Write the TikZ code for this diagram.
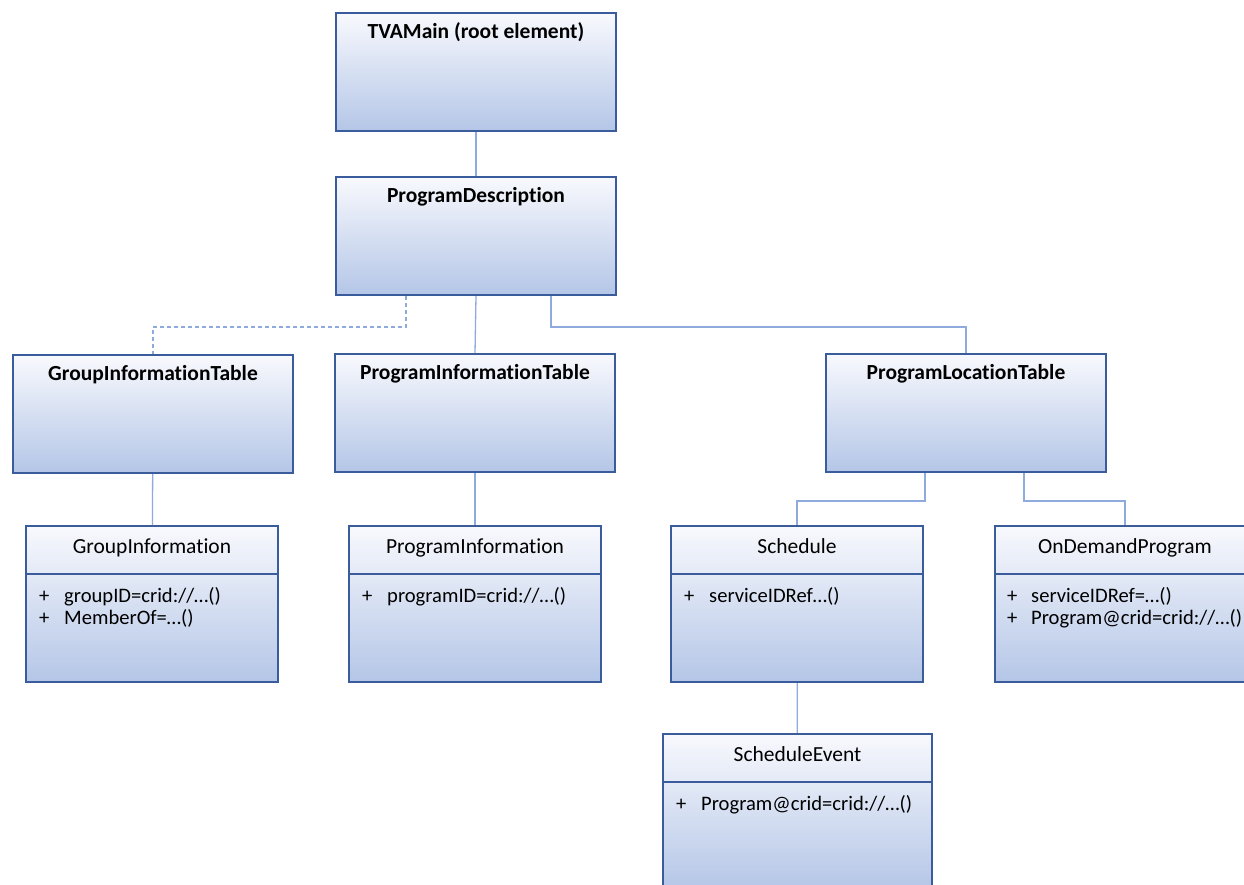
\documentclass[tikz,border=0pt]{standalone}
\usepackage{fontspec}
\setmainfont{Carlito}[Ligatures=NoCommon]
\usetikzlibrary{positioning}
\definecolor{boxedge}{HTML}{3B5C9C}
\definecolor{boxtop}{HTML}{F8F9FD}
\definecolor{boxbot}{HTML}{B4C6E7}
\definecolor{linkblue}{HTML}{8FAADC}

\begin{document}
\begin{tikzpicture}[x=1pt, y=-1pt,
        font=\fontsize{21.5}{22}\selectfont,
        tblbox/.style={rectangle, draw=boxedge, line width=2pt, top color=boxtop, bottom color=boxbot,
          minimum width=280pt, minimum height=118pt, anchor=north west, inner sep=0pt},
        clsbox/.style={tblbox, minimum width=252pt, minimum height=156pt},
        divider/.style={draw=boxedge, line width=1.6pt},
        heading/.style={anchor=base, font=\fontsize{21.5}{22}\selectfont\bfseries},
        clsname/.style={anchor=base},
        members/.style={anchor=base west, inner sep=0pt, font=\fontsize{20.6}{22}\selectfont},
        link/.style={draw=linkblue, line width=1.3pt},
      ]
      \useasboundingbox (0,0) rectangle (1244,884);

      % element boxes of the schema
      \node[tblbox] (tva) at (335,12) {};
      \node[tblbox] (pd) at (335,176) {};
      \node[tblbox] (git) at (12,354) {};
      \node[tblbox] (pit) at (334,353) {};
      \node[tblbox] (plt) at (825,353) {};

      \node[heading] (tvaname) at ([yshift=-26pt]tva.north) {TVAMain (root element)};
      \node[heading] (pdname) at ([yshift=-26pt]pd.north) {ProgramDescription};
      \node[heading] (gitname) at ([yshift=-26pt]git.north) {GroupInformationTable};
      \node[heading] (pitname) at ([yshift=-26pt]pit.north) {ProgramInformationTable};
      \node[heading] (pltname) at ([yshift=-26pt]plt.north) {ProgramLocationTable};

      % class boxes
      \node[clsbox] (gi) at (25,525) {};
      \node[clsbox] (pi) at (348,525) {};
      \node[clsbox] (sch) at (670,525) {};
      \node[clsbox, minimum width=260pt] (odp) at (994,525) {};
      \node[clsbox, minimum width=269pt] (se) at (662,733) {};

      \foreach \c in {gi,pi,sch,odp,se}
        \draw[divider] ([yshift=-49pt]\c.north west) -- ([yshift=-49pt]\c.north east);

      \node[clsname] (giname) at ([yshift=-28pt]gi.north) {GroupInformation};
      \node[clsname] (piname) at ([yshift=-28pt]pi.north) {ProgramInformation};
      \node[clsname] (schname) at ([yshift=-28pt]sch.north) {Schedule};
      \node[clsname] (odpname) at ([yshift=-28pt]odp.north) {OnDemandProgram};
      \node[clsname] (sename) at ([yshift=-28pt]se.north) {ScheduleEvent};

      \node[members] (gimem) at ([xshift=14pt,yshift=-77pt]gi.north west)
        {\begin{tabular}[t]{@{}p{25pt}@{}l@{}} + & groupID=crid://…() \\ + & MemberOf=…() \end{tabular}};
      \node[members] (pimem) at ([xshift=14pt,yshift=-77pt]pi.north west)
        {\begin{tabular}[t]{@{}p{25pt}@{}l@{}} + & programID=crid://…() \end{tabular}};
      \node[members] (schmem) at ([xshift=14pt,yshift=-77pt]sch.north west)
        {\begin{tabular}[t]{@{}p{25pt}@{}l@{}} + & serviceIDRef…() \end{tabular}};
      \node[members] (odpmem) at ([xshift=13pt,yshift=-77pt]odp.north west)
        {\begin{tabular}[t]{@{}p{24pt}@{}l@{}} + & serviceIDRef=…() \\ + & Program@crid=crid://…() \end{tabular}};
      \node[members] (semem) at ([xshift=14pt,yshift=-77pt]se.north west)
        {\begin{tabular}[t]{@{}p{25pt}@{}l@{}} + & Program@crid=crid://…() \end{tabular}};

      % connectors
      \draw[link] (tva) -- (pd);
      \draw[link, dash pattern=on 4pt off 3pt] ([xshift=-70pt]pd.south) -- ++(0,31) -| (git.north);
      \draw[link] (pd.south) -- (pit.north);
      \draw[link] ([xshift=75pt]pd.south) -- ++(0,31) -| (plt.north);
      \draw[link] (git) -- (gi);
      \draw[link] (pit) -- (pi);
      \draw[link] ([xshift=-41pt]plt.south) -- ++(0,28) -| (sch.north);
      \draw[link] ([xshift=58pt]plt.south) -- ++(0,28) -| (odp.north);
      \draw[link] (sch) -- (se);
    \end{tikzpicture}
\end{document}
